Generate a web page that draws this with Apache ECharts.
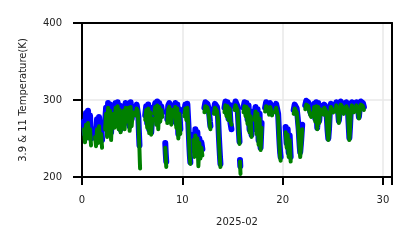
<!DOCTYPE html>
<html>
<head>
<meta charset="utf-8">
<script src="https://cdn.jsdelivr.net/npm/echarts@6/dist/echarts.min.js"></script>
<style>html,body{margin:0;padding:0;background:#fff}#c{width:411px;height:248px}</style>
</head>
<body>
<div id="c"></div>
<script>
// Day-of-month positions of each observation run (one inner array per run)
const segmentTimes = [
  [0.2,0.3,0.4,0.5,0.6,0.7,0.8,0.9],
  [1.3,1.4,1.5,1.6,1.7,1.8,1.9,2.0],
  [2.3,2.4,2.5,2.6,2.7,2.8,2.9,3.0],
  [3.15,3.25,3.35,3.45,3.55,3.65,3.75,3.85,3.95],
  [4.15,4.25,4.35,4.45,4.55,4.65,4.75,4.85,4.95,5.05],
  [5.35,5.45,5.55,5.62,5.66,5.7,5.73,5.76,5.79],
  [6.3,6.4,6.5,6.6,6.7,6.8,6.9,7.0],
  [7.2,7.3,7.4,7.5,7.6,7.7,7.8,7.9,8.0],
  [8.3,8.35,8.4],
  [8.5,8.6,8.7,8.8,8.9,9.0],
  [9.2,9.3,9.4,9.5,9.6,9.7,9.8],
  [10.2,10.3,10.4,10.5,10.6,10.65,10.7,10.75,10.8],
  [11.1,11.2,11.3,11.4,11.5,11.6,11.7,11.8,11.9,12.0],
  [12.2,12.3,12.4,12.5,12.6,12.7,12.75,12.8],
  [13.15,13.25,13.35,13.45,13.55,13.6,13.65,13.7,13.75,13.8],
  [14.2,14.3,14.4,14.5,14.6,14.7,14.8,14.9],
  [15.2,15.3,15.4,15.5,15.55,15.6,15.65,15.7],
  [15.75,15.78,15.8],
  [16.1,16.2,16.3,16.4,16.5,16.6,16.7,16.8,16.9],
  [17.2,17.3,17.4,17.5,17.6,17.7,17.8,17.9],
  [18.25,18.35,18.45,18.55,18.65,18.75,18.85,18.95],
  [19.25,19.35,19.45,19.55,19.6,19.65,19.7,19.75,19.8],
  [20.3,20.4,20.5,20.6,20.7,20.8],
  [21.1,21.2,21.3,21.4,21.5,21.6,21.65,21.7,21.75,21.85,21.95],
  [22.25,22.35,22.45,22.55,22.65,22.75,22.85],
  [23.05,23.15,23.25,23.35,23.45,23.55,23.65,23.75,23.85],
  [24.05,24.15,24.25,24.35,24.42,24.48,24.55,24.62,24.7,24.8,24.9,25.05],
  [25.25,25.35,25.45,25.5,25.55,25.6,25.7,25.8,25.9,26.0,26.1],
  [26.25,26.35,26.45,26.5,26.55,26.6,26.65,26.72,26.8,26.9,27.0,27.1],
  [27.25,27.35,27.45,27.5,27.55,27.6,27.7,27.8,27.9,28.0,28.1]
];
// 3.9 um brightness temperature (K)
const blueTemps = [
  [272,256,283,262,286,266,280,250],
  [262,250,275,255,278,258,270,248],
  [270,290,262,296,268,294,258,286],
  [288,270,296,275,297,268,293,262,285],
  [292,270,296,280,288,295,266,297,275,290],
  [286,294,292,278,263,250,241,null,null],
  [280,292,270,294,262,290,258,282],
  [288,296,276,298,272,296,280,292,284],
  [244,230,220],
  [275,293,296,285,272,292],
  [285,296,270,294,256,288,262],
  [285,294,280,295,270,255,240,228,219],
  [255,235,262,240,258,228,250,232,245,236],
  [290,297,298,295,290,280,272,266],
  [287,295,296,291,281,266,251,239,227,217],
  [290,298,284,297,276,294,270,262],
  [292,298,298,292,280,268,256,246],
  [222,214,null],
  [290,297,285,296,275,293,262,285,255],
  [280,291,262,288,248,282,238,270],
  [290,297,298,294,286,296,292,284],
  [289,295,293,282,268,254,242,232,226],
  [265,244,262,232,254,226],
  [287,294,295,289,277,262,250,240,232,248,268],
  [293,299,300,297,291,285,281],
  [283,295,276,297,264,296,273,293,287],
  [285,294,296,289,274,260,250,262,284,295,296,288],
  [289,297,299,291,281,273,286,298,299,294,286],
  [289,297,297,289,276,263,251,266,289,297,296,288],
  [289,297,299,293,285,278,291,298,299,296,291]
];
// 11 um brightness temperature (K)
const greenTemps = [
  [262,245,268,250,270,252,262,241],
  [252,240,262,244,266,246,256,238],
  [262,282,252,290,258,286,248,278],
  [282,264,290,268,292,262,287,258,276],
  [286,262,290,272,282,290,260,291,266,284],
  [280,289,286,270,256,245,235,222,211],
  [274,287,264,289,257,284,255,276],
  [282,291,268,293,262,291,272,287,278],
  [238,224,213],
  [270,288,291,280,268,287],
  [279,291,264,289,250,282,256],
  [279,289,274,290,264,250,236,224,217],
  [248,226,254,232,250,214,244,224,238,228],
  [284,292,293,290,284,274,266,262],
  [282,290,291,286,276,261,246,234,222,213],
  [284,293,279,292,274,289,272,268],
  [287,293,293,287,275,263,252,243],
  [220,210,204],
  [284,292,279,291,269,288,258,279,252],
  [274,285,256,282,242,276,235,264],
  [285,292,293,289,281,291,287,280],
  [284,290,288,277,262,248,236,226,221],
  [258,238,255,226,248,220],
  [282,289,290,284,271,256,244,234,226,242,262],
  [288,294,295,292,286,281,278],
  [279,291,272,292,262,291,270,288,283],
  [281,290,292,285,270,256,248,258,280,291,292,284],
  [285,293,295,287,277,270,282,294,295,290,282],
  [285,292,293,285,272,259,248,262,285,293,292,284],
  [285,293,295,289,281,276,287,294,295,292,287]
];
const xTicks = [0, 10, 20, 30];
const yTicks = [200, 300, 400];

function build(values) {
  const out = [];
  segmentTimes.forEach((ts, s) => {
    ts.forEach((t, i) => out.push([t, values[s][i] == null ? null : values[s][i]]));
    out.push([null, null]);
  });
  return out;
}

const font = 'DejaVu Sans';
const X_MAX = 30.9;
const frameAxis = {
  axisLine: {show: true, onZero: false, lineStyle: {color: '#000', width: 2}},
  axisTick: {show: false}, axisLabel: {show: false}, splitLine: {show: false}
};
const chart = echarts.init(document.getElementById('c'), null, {renderer: 'canvas'});
chart.setOption({
  animation: false,
  backgroundColor: '#fff',
  grid: {left: 82, right: 19, top: 23, bottom: 71, show: false, containLabel: false},
  xAxis: [{
    type: 'value', min: xTicks[0], max: X_MAX, interval: 10,
    name: '2025-02', nameLocation: 'middle', nameGap: 40,
    nameTextStyle: {fontFamily: font, fontSize: 10, color: '#222'},
    axisLine: {show: true, onZero: false, lineStyle: {color: '#000', width: 2}},
    axisTick: {show: true, length: 8, lineStyle: {color: '#000', width: 2}},
    axisLabel: {margin: 18, fontFamily: font, fontSize: 10, color: '#222',
      formatter: v => xTicks.indexOf(v) >= 0 ? String(v) : ''},
    splitLine: {show: true, lineStyle: {color: '#e8e8e8', width: 1.5}}
  }, Object.assign({type: 'value', position: 'top', min: xTicks[0], max: X_MAX, z: 5}, frameAxis)],
  yAxis: [{
    type: 'value', min: yTicks[0], max: yTicks[2], interval: 100,
    name: '3.9 & 11 Temperature(K)', nameLocation: 'middle', nameGap: 54,
    nameTextStyle: {fontFamily: font, fontSize: 10, color: '#222'},
    axisLine: {show: true, lineStyle: {color: '#000', width: 2}},
    axisTick: {show: true, length: 9, lineStyle: {color: '#000', width: 2}},
    axisLabel: {margin: 20, fontFamily: font, fontSize: 10, color: '#222'},
    splitLine: {show: true, lineStyle: {color: '#e8e8e8', width: 1.5}}
  }, Object.assign({type: 'value', position: 'right', min: yTicks[0], max: yTicks[2], z: 5}, frameAxis)],
  series: [
    {name: '3.9', type: 'line', data: build(blueTemps), symbol: 'none', connectNulls: false,
      lineStyle: {color: '#0000ff', width: 6, cap: 'round', join: 'round'}},
    {name: '11', type: 'line', data: build(greenTemps), symbol: 'none', connectNulls: false,
      lineStyle: {color: '#008000', width: 4, cap: 'round', join: 'round'}}
  ]
});
</script>
</body>
</html>
